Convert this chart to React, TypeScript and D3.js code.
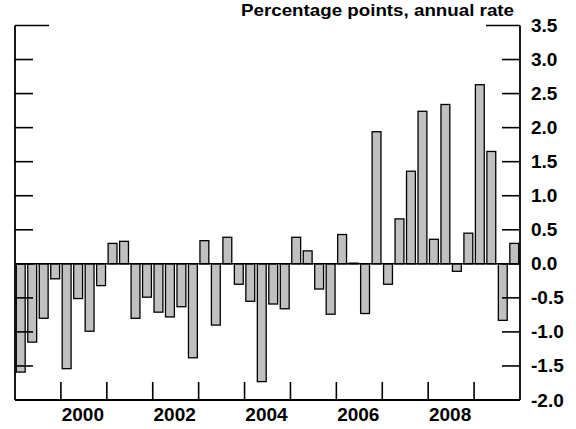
import React from "react";
import * as d3 from "d3";

const startYear = 1999;
const endYear = 2010;
const values: number[] = [
  -1.59, -1.15, -0.8, -0.22, -1.54, -0.51, -0.99, -0.32, 0.3, 0.33,
  -0.8, -0.49, -0.71, -0.78, -0.63, -1.38, 0.34, -0.9, 0.39, -0.3,
  -0.55, -1.73, -0.59, -0.66, 0.39, 0.19, -0.37, -0.74, 0.43, 0.01,
  -0.73, 1.94, -0.3, 0.66, 1.36, 2.24, 0.36, 2.34, -0.11, 0.45,
  2.63, 1.65, -0.83, 0.3,
];
const yTicks: number[] = [3.5, 3.0, 2.5, 2.0, 1.5, 1.0, 0.5, 0.0, -0.5, -1.0, -1.5, -2.0];
const yearTicks: number[] = [2000, 2001, 2002, 2003, 2004, 2005, 2006, 2007, 2008, 2009];
const yearLabels: number[] = [2000, 2002, 2004, 2006, 2008];
const title = "Percentage points, annual rate";

const W = 576;
const H = 429;
const left = 15;
const right = 520;
const top = 25.5;
const bottom = 400;
const font = "'Liberation Sans', Arial, Helvetica, sans-serif";

export default function App() {
  const x = d3.scaleLinear().domain([startYear, endYear]).range([left, right]);
  const y = d3.scaleLinear().domain([-2, 3.5]).range([bottom, top]);
  const qw = x(startYear + 0.25) - x(startYear);
  const inset = 1.3;
  return (
    <svg width={W} height={H} style={{ position: "absolute", left: 0, top: 0, background: "#fff" }}>
      {values.map((v, i) => {
        const x0 = x(startYear + i / 4);
        const y0 = y(Math.max(0, v));
        const y1 = y(Math.min(0, v));
        return (
          <rect
            key={i}
            x={x0 + inset}
            y={y0}
            width={qw - 2 * inset}
            height={Math.max(0.5, y1 - y0)}
            fill="#c0c0c0"
            stroke="#000"
            strokeWidth={1.3}
          />
        );
      })}
      <line x1={left} x2={right} y1={y(0)} y2={y(0)} stroke="#000" strokeWidth={1.6} />
      <line x1={left} x2={left} y1={top} y2={bottom} stroke="#000" strokeWidth={1.8} />
      <line x1={right} x2={right} y1={top} y2={bottom} stroke="#000" strokeWidth={1.8} />
      <line x1={left} x2={right} y1={bottom} y2={bottom} stroke="#000" strokeWidth={1.8} />
      {yTicks.map((t) => {
        const long = t === 3.5;
        const len = long ? 34 : 18;
        return (
          <g key={t}>
            <line x1={left} x2={left + len} y1={y(t)} y2={y(t)} stroke="#000" strokeWidth={1.6} />
            <line x1={right - len} x2={right} y1={y(t)} y2={y(t)} stroke="#000" strokeWidth={1.6} />
            <text x={531} y={y(t) + 6.5} fontFamily={font} fontWeight="bold" fontSize={19} fill="#000">
              {t.toFixed(1)}
            </text>
          </g>
        );
      })}
      {yearTicks.map((yr) => (
        <line key={yr} x1={x(yr)} x2={x(yr)} y1={bottom} y2={bottom - 18} stroke="#000" strokeWidth={1.6} />
      ))}
      {yearLabels.map((yr) => (
        <text
          key={yr}
          x={x(yr + 0.5) - 1}
          y={421}
          textAnchor="middle"
          fontFamily={font}
          fontWeight="bold"
          fontSize={19}
          fill="#000"
        >
          {yr}
        </text>
      ))}
      <text
        x={514}
        y={15.5}
        textAnchor="end"
        fontFamily={font}
        fontWeight="bold"
        fontSize={17}
        textLength={273}
        lengthAdjust="spacingAndGlyphs"
        fill="#000"
      >
        {title}
      </text>
    </svg>
  );
}
